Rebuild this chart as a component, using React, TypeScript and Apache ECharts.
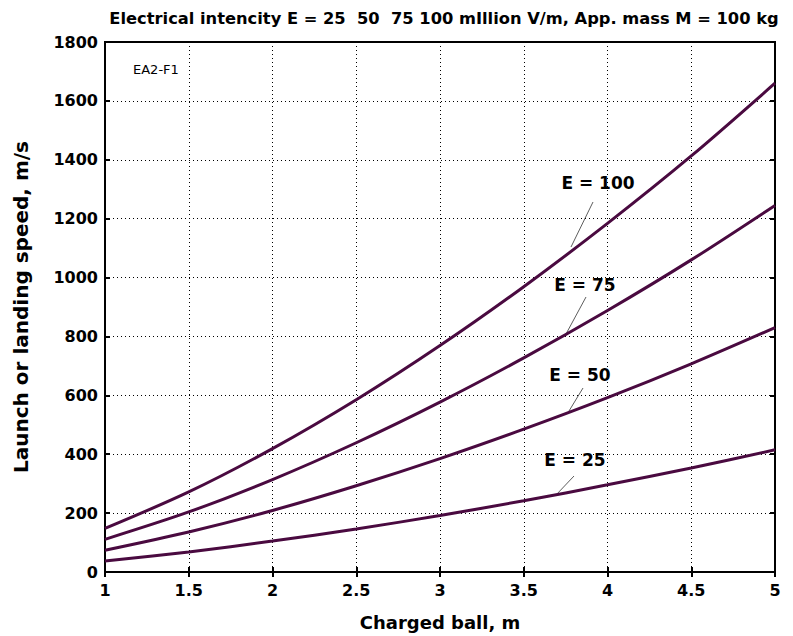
import React, { useEffect, useRef } from "react";
import * as echarts from "echarts";

const xValues = [1, 1.5, 2, 2.5, 3, 3.5, 4, 4.5, 5];
const e100 = [148, 272, 419, 585, 769, 969, 1184, 1413, 1660];
const e75 = [111, 204, 314, 439, 577, 727, 888, 1060, 1245];
const e50 = [74, 136, 209, 293, 385, 485, 592, 707, 830];
const e25 = [37, 68, 105, 146, 192, 242, 296, 353, 415];
const seriesNames = ["E = 100", "E = 75", "E = 50", "E = 25"];
const titleText = "Electrical intencity E = 25  50  75 100 mIllion V/m, App. mass M = 100 kg";
const xName = "Charged ball, m";
const yName = "Launch or landing speed, m/s";
const tagText = "EA2-F1";

const LINE_COLOR = "#4a0a40";
const FONT = "'DejaVu Sans', Arial, sans-serif";

export default function App() {
  const ref = useRef<HTMLDivElement>(null);
  useEffect(() => {
    if (!ref.current) return;
    const chart = echarts.init(ref.current, undefined, { renderer: "svg" });
    const allSeries = [e100, e75, e50, e25];
    const labelStyle = { fontFamily: FONT, fontWeight: "bold", fontSize: 16, color: "#000" };
    const gridLine = { show: true, lineStyle: { color: "#000", width: 1, type: [1, 3] as any } };
    const annotations = [
      { text: seriesNames[0], tx: 598, ty: 183, x1: 593, y1: 202, x2: 571, y2: 247 },
      { text: seriesNames[1], tx: 585, ty: 285, x1: 586, y1: 297, x2: 566, y2: 334 },
      { text: seriesNames[2], tx: 580, ty: 375, x1: 583, y1: 388, x2: 569, y2: 411 },
      { text: seriesNames[3], tx: 575, ty: 460, x1: 574, y1: 476, x2: 556, y2: 495 },
    ];
    const graphic: any[] = [];
    annotations.forEach((a) => {
      graphic.push({
        type: "text",
        x: a.tx,
        y: a.ty,
        style: {
          text: a.text,
          fontFamily: FONT,
          fontWeight: "bold",
          fontSize: 17,
          fill: "#000",
          align: "center",
          verticalAlign: "middle",
        },
      });
      graphic.push({
        type: "line",
        shape: { x1: a.x1, y1: a.y1, x2: a.x2, y2: a.y2 },
        style: { stroke: "#333", lineWidth: 0.8 },
      });
    });
    graphic.push({
      type: "text",
      x: 133,
      y: 69,
      style: { text: tagText, fontFamily: FONT, fontSize: 13, fill: "#000", verticalAlign: "middle" },
    });

    chart.setOption({
      animation: false,
      backgroundColor: "#fff",
      title: {
        text: titleText,
        left: 439,
        top: 5,
        textAlign: "center",
        textStyle: { fontFamily: FONT, fontWeight: "bold", fontSize: 16.3, color: "#000" },
      },
      grid: {
        left: 105,
        right: 18,
        top: 42,
        bottom: 64,
        show: true,
        borderColor: "#000",
        borderWidth: 2,
        backgroundColor: "transparent",
      },
      xAxis: [
        {
          type: "value",
          min: 1,
          max: 5,
          interval: 0.5,
          name: xName,
          nameLocation: "middle",
          nameGap: 41,
          nameTextStyle: { fontFamily: FONT, fontWeight: "bold", fontSize: 18, color: "#000" },
          axisLine: { show: true, lineStyle: { color: "#000", width: 2 } },
          axisTick: { show: true, inside: true, length: 5, lineStyle: { color: "#000", width: 2 } },
          axisLabel: { ...labelStyle, margin: 10 },
          splitLine: gridLine,
        },
        {
          type: "value",
          position: "top",
          min: 1,
          max: 5,
          interval: 0.5,
          axisLine: { show: true, lineStyle: { color: "#000", width: 2 } },
          axisTick: { show: true, inside: true, length: 5, lineStyle: { color: "#000", width: 2 } },
          axisLabel: { show: false },
          splitLine: { show: false },
        },
      ],
      yAxis: [
        {
          type: "value",
          min: 0,
          max: 1800,
          interval: 200,
          name: yName,
          nameLocation: "middle",
          nameGap: 74,
          nameTextStyle: { fontFamily: FONT, fontWeight: "bold", fontSize: 20, color: "#000" },
          axisLine: { show: true, lineStyle: { color: "#000", width: 2 } },
          axisTick: { show: true, inside: true, length: 5, lineStyle: { color: "#000", width: 2 } },
          axisLabel: { ...labelStyle, margin: 7, formatter: (v: number) => String(v) },
          splitLine: gridLine,
        },
        {
          type: "value",
          position: "right",
          min: 0,
          max: 1800,
          interval: 200,
          axisLine: { show: true, lineStyle: { color: "#000", width: 2 } },
          axisTick: { show: true, inside: true, length: 5, lineStyle: { color: "#000", width: 2 } },
          axisLabel: { show: false },
          splitLine: { show: false },
        },
      ],
      series: allSeries.map((vals, i) => ({
        name: seriesNames[i],
        type: "line",
        xAxisIndex: 0,
        yAxisIndex: 0,
        smooth: 0.3,
        symbol: "none",
        lineStyle: { color: LINE_COLOR, width: 3 },
        data: xValues.map((x, j) => [x, vals[j]]),
        z: 3,
      })),
      graphic,
    });
    return () => chart.dispose();
  }, []);
  return (
    <div
      ref={ref}
      style={{ position: "absolute", left: 0, top: 0, width: 793, height: 636 }}
    />
  );
}
